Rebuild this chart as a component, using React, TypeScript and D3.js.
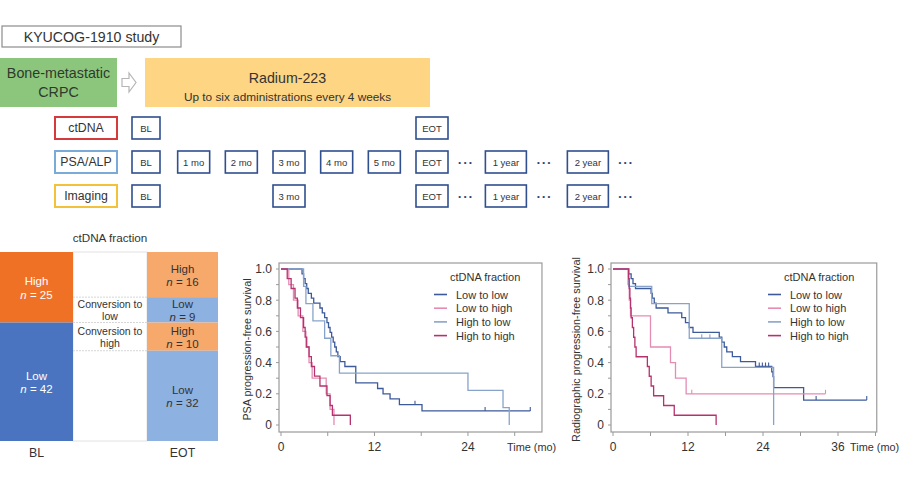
import React from "react";
import * as d3 from "d3";

const FONT = "'Liberation Sans', Arial, Helvetica, sans-serif";
const TEXT = "#333";

// ---- study schedule
const timepoints = ["BL", "1 mo", "2 mo", "3 mo", "4 mo", "5 mo", "EOT", "dots", "1 year", "dots", "2 year", "dots"];
const timepointSlots = [0, 1, 2, 3, 4, 5, 6, 6.72, 7.55, 8.37, 9.27, 10.08];
const assays = ["ctDNA", "PSA/ALP", "Imaging"];
const assayColors = ["#d63b3b", "#7aaad8", "#f2c23a"];
const assaySchedule = [
  [0, 6],
  [0, 1, 2, 3, 4, 5, 6, 7, 8, 9, 10, 11],
  [0, 3, 6, 7, 8, 9, 10, 11],
];

// ---- ctDNA fraction bars
const blLabels = ["High", "Low"];
const blCounts = [25, 42];
const eotLabels = ["High", "Low", "High", "Low"];
const eotCounts = [16, 9, 10, 32];
const conversionLabels = ["", "Conversion to|low", "Conversion to|high", ""];

// ---- Kaplan-Meier curves [month, survival]
const seriesNames = ["Low to low", "Low to high", "High to low", "High to high"];
const seriesColors = ["#3d5a99", "#e58cb3", "#88a3cb", "#b5326e"];

const psaLowLow = [[0, 1], [2.7, 0.969], [2.9, 0.938], [3.1, 0.906], [3.3, 0.875], [3.5, 0.844], [3.9, 0.813], [4.2, 0.781], [5.0, 0.75], [5.3, 0.719], [5.6, 0.688], [5.9, 0.656], [6.1, 0.625], [6.3, 0.594], [6.5, 0.563], [6.7, 0.531], [6.9, 0.5], [7.1, 0.469], [7.3, 0.438], [7.6, 0.406], [8.2, 0.375], [9.6, 0.27], [12.4, 0.234], [13.1, 0.2], [14.0, 0.168], [15.2, 0.13], [18.1, 0.09], [32.0, 0.09]];
const psaLowLowCensor = [17.2, 26.2, 32.0];
const psaLowHigh = [[0, 1], [1.0, 0.9], [1.6, 0.8], [2.2, 0.7], [2.8, 0.6], [3.2, 0.5], [3.6, 0.4], [4.0, 0.3], [5.8, 0.2], [6.3, 0.1], [6.8, 0]];
const psaHighLow = [[0, 1], [2.9, 0.889], [3.2, 0.778], [4.1, 0.667], [5.6, 0.556], [6.4, 0.444], [7.5, 0.333], [24.0, 0.222], [28.5, 0.111], [29.3, 0]];
const psaHighHigh = [[0, 1], [0.8, 0.938], [1.3, 0.875], [1.8, 0.813], [2.1, 0.75], [2.5, 0.688], [2.9, 0.625], [3.1, 0.563], [3.3, 0.5], [3.6, 0.438], [3.9, 0.375], [4.3, 0.313], [5.0, 0.25], [5.9, 0.188], [6.3, 0.125], [6.6, 0.0625], [8.9, 0]];

const rLowLow = [[0, 1], [2.5, 0.969], [2.9, 0.938], [3.2, 0.906], [3.6, 0.875], [6.1, 0.844], [6.3, 0.813], [6.6, 0.781], [6.9, 0.75], [8.8, 0.719], [11.0, 0.688], [11.6, 0.656], [12.2, 0.625], [12.8, 0.594], [17.0, 0.563], [17.4, 0.531], [17.8, 0.5], [18.2, 0.469], [19.1, 0.438], [20.4, 0.406], [22.8, 0.375], [25.4, 0.34], [25.6, 0.31], [25.7, 0.24], [30.5, 0.16], [40.6, 0.16]];
const rLowLowCensor = [23.4, 23.9, 24.4, 24.9, 32.5, 40.6];
const rLowHigh = [[0, 1], [2.4, 0.9], [2.6, 0.8], [2.8, 0.7], [6.0, 0.5], [9.2, 0.4], [10.0, 0.3], [11.7, 0.2], [34.0, 0.2]];
const rLowHighCensor = [12.6, 34.0];
const rHighLow = [[0, 1], [2.5, 0.889], [6.2, 0.778], [12.2, 0.556], [17.4, 0.37], [25.7, 0]];
const rHighLowCensor = [14.2, 15.5];
const rHighHigh = [[0, 1], [2.5, 0.9375], [2.6, 0.875], [2.7, 0.8125], [2.8, 0.75], [2.9, 0.6875], [3.1, 0.625], [3.3, 0.5625], [3.5, 0.5], [3.7, 0.4375], [5.5, 0.375], [5.8, 0.3125], [6.1, 0.25], [6.5, 0.1875], [8.1, 0.125], [9.8, 0.0625], [16.5, 0]];

const yTickValues = [0, 0.2, 0.4, 0.6, 0.8, 1.0];

function survivalAt(pts: number[][], t: number) {
  let s = pts[0][1];
  pts.forEach((p) => { if (p[0] <= t) s = p[1]; });
  return s;
}

function KMPanel(props: any) {
  const { zero, pxPerMonth, tMax, xTicks, yLabel, yLabelX, timeX, legendX, curves, censors } = props;
  const x = d3.scaleLinear().domain([0, 12]).range([zero, zero + 12 * pxPerMonth]);
  const y = d3.scaleLinear().domain([0, 1]).range([425, 269]);
  const top = 263, bottom = 432, left = zero - 2, right = x(tMax);
  const line = d3.line<number[]>().x((d) => x(d[0])).y((d) => y(d[1])).curve(d3.curveStepAfter);
  const minorY = d3.range(0, 11).map((i) => i / 10);
  const minorX = d3.range(6, tMax, 12);
  return (
    <g fontFamily={FONT}>
      <rect x={left} y={top} width={right - left} height={bottom - top} fill="white" stroke="#9a9a9a" strokeWidth={1.2} />
      {minorY.map((v) => (
        <line key={"my" + v} x1={left - 3} x2={left} y1={y(v)} y2={y(v)} stroke="#9a9a9a" />
      ))}
      {yTickValues.map((v) => (
        <text key={"ty" + v} x={left - 7} y={y(v) + 4.3} fontSize={12} textAnchor="end" fill={TEXT}>
          {v === 0 ? "0" : v.toFixed(1)}
        </text>
      ))}
      {xTicks.concat(minorX).map((v: number) => (
        <line key={"mx" + v} x1={x(v)} x2={x(v)} y1={bottom} y2={bottom + 4} stroke="#9a9a9a" />
      ))}
      {xTicks.map((v: number) => (
        <text key={"tx" + v} x={x(v)} y={451} fontSize={12} textAnchor="middle" fill={TEXT}>{v}</text>
      ))}
      <text x={timeX} y={451} fontSize={10.9} fill={TEXT}>Time (mo)</text>
      <text transform={`translate(${yLabelX},${(top + bottom) / 2 + 2}) rotate(-90)`} fontSize={10.8} textAnchor="middle" fill={TEXT}>
        {yLabel}
      </text>
      {curves.map((pts: number[][], i: number) => (
        <path key={"c" + i} d={line(pts) || ""} fill="none" stroke={seriesColors[i]} strokeWidth={1.3} />
      ))}
      {censors.map((cs: number[], i: number) =>
        cs.map((t) => {
          const sy = y(survivalAt(curves[i], t));
          return <line key={"cs" + i + t} x1={x(t)} x2={x(t)} y1={sy - 4} y2={sy} stroke={seriesColors[i]} strokeWidth={1.1} />;
        })
      )}
      <text x={legendX + 16} y={281} fontSize={11} fill={TEXT}>ctDNA fraction</text>
      {seriesNames.map((n, i) => (
        <g key={n}>
          <line x1={legendX} x2={legendX + 13} y1={294.5 + i * 13.7} y2={294.5 + i * 13.7} stroke={seriesColors[i]} strokeWidth={1.6} />
          <text x={legendX + 22} y={298.5 + i * 13.7} fontSize={11} fill={TEXT}>{n}</text>
        </g>
      ))}
    </g>
  );
}

function Schedule() {
  const slotX = d3.scaleLinear().domain([0, 6]).range([146, 432]);
  const rowY = d3.scalePoint<string>().domain(assays).range([128, 196]);
  const boxW = (lab: string) => (lab === "BL" ? 28 : lab.includes("year") ? 41 : 32);
  return (
    <g fontFamily={FONT}>
      <rect x={2} y={26} width={179} height={21} fill="white" stroke="#8c8c8c" strokeWidth={1.2} />
      <text x={91.5} y={41.5} fontSize={14.2} textAnchor="middle" fill={TEXT}>KYUCOG-1910 study</text>

      <rect x={0} y={58} width={117} height={49} fill="#8cc67c" />
      <text x={58.5} y={78} fontSize={14.3} textAnchor="middle" fill="#2f3a2c">Bone-metastatic</text>
      <text x={58.5} y={97} fontSize={14.3} textAnchor="middle" fill="#2f3a2c">CRPC</text>
      <polygon points="122,78.5 129,78.5 129,73 136,82.5 129,92 129,86.5 122,86.5" fill="white" stroke="#b5b5b5" strokeWidth={1.2} />

      <rect x={145} y={58} width={285} height={49} fill="#fdd583" />
      <text x={287.5} y={83} fontSize={14.2} textAnchor="middle" fill={TEXT}>Radium-223</text>
      <text x={287.5} y={101} fontSize={11.8} textAnchor="middle" fill={TEXT}>Up to six administrations every 4 weeks</text>

      {assays.map((a, r) => {
        const cy = rowY(a) as number;
        return (
          <g key={a}>
            <rect x={55} y={cy - 11} width={62} height={22} fill="white" stroke={assayColors[r]} strokeWidth={2} />
            <text x={86} y={cy + 4.3} fontSize={12.3} textAnchor="middle" fill={TEXT}>{a}</text>
            {assaySchedule[r].map((k) => {
              const lab = timepoints[k];
              const cx = slotX(timepointSlots[k]);
              if (lab === "dots") {
                return (
                  <text key={k} x={cx} y={cy + 3} fontSize={8} textAnchor="middle" letterSpacing={2.5} fill="#2b3f6e">•••</text>
                );
              }
              const w = boxW(lab);
              return (
                <g key={k}>
                  <rect x={cx - w / 2} y={cy - 11} width={w} height={22} fill="white" stroke="#2f4f8f" strokeWidth={1.6} />
                  <text x={cx} y={cy + 3.5} fontSize={9.5} textAnchor="middle" fill={TEXT}>{lab}</text>
                </g>
              );
            })}
          </g>
        );
      })}
    </g>
  );
}

function FractionBars() {
  const total = d3.sum(blCounts);
  const y = d3.scaleLinear().domain([0, total]).range([252, 441]);
  const blStart = d3.cumsum([0].concat(blCounts));
  const eotStart = d3.cumsum([0].concat(eotCounts));
  const blFill = ["#ef7126", "#4a74c0"];
  const eotFill = ["#f7a86b", "#8db1e0"];
  return (
    <g fontFamily={FONT}>
      <text x={110} y={242} fontSize={11.7} textAnchor="middle" fill={TEXT}>ctDNA fraction</text>
      <rect x={73} y={y(0)} width={74} height={y(total) - y(0)} fill="white" stroke="#e2e2e2" />
      {blCounts.map((c, i) => {
        const y0 = y(blStart[i]), y1 = y(blStart[i] + c), m = (y0 + y1) / 2;
        return (
          <g key={"bl" + i}>
            <rect x={0} y={y0} width={73} height={y1 - y0} fill={blFill[i % 2]} />
            <text x={36.5} y={m - 2} fontSize={11.5} textAnchor="middle" fill="white">{blLabels[i]}</text>
            <text x={36.5} y={m + 11.5} fontSize={11.5} textAnchor="middle" fill="white">
              <tspan fontStyle="italic">n</tspan> = {c}
            </text>
          </g>
        );
      })}
      {eotCounts.map((c, i) => {
        const y0 = y(eotStart[i]), y1 = y(eotStart[i] + c), m = (y0 + y1) / 2;
        const conv = conversionLabels[i].split("|");
        return (
          <g key={"eot" + i}>
            <rect x={147} y={y0} width={71} height={y1 - y0} fill={eotFill[i % 2]} />
            {i > 0 && <line x1={73} x2={147} y1={y0} y2={y0} stroke="#d6d6d6" strokeDasharray="2,1" />}
            <text x={182.5} y={m - 2} fontSize={11.5} textAnchor="middle" fill={TEXT}>{eotLabels[i]}</text>
            <text x={182.5} y={m + 11.5} fontSize={11.5} textAnchor="middle" fill={TEXT}>
              <tspan fontStyle="italic">n</tspan> = {c}
            </text>
            {conv[0] && (
              <>
                <text x={110} y={m - 2} fontSize={10.5} textAnchor="middle" fill={TEXT}>{conv[0]}</text>
                <text x={110} y={m + 10.5} fontSize={10.5} textAnchor="middle" fill={TEXT}>{conv[1]}</text>
              </>
            )}
          </g>
        );
      })}
      <text x={36.5} y={457} fontSize={12.3} textAnchor="middle" fill={TEXT}>BL</text>
      <text x={182.5} y={457} fontSize={12.3} textAnchor="middle" fill={TEXT}>EOT</text>
    </g>
  );
}

export default function App() {
  return (
    <svg width={900} height={500} style={{ position: "absolute", left: 0, top: 0, background: "white" }}>
      <rect x={0} y={0} width={900} height={500} fill="white" />
      <Schedule />
      <FractionBars />
      <KMPanel
        zero={281}
        pxPerMonth={7.79}
        tMax={33.5}
        xTicks={[0, 12, 24]}
        yLabel="PSA progression-free survival"
        yLabelX={251}
        timeX={507}
        legendX={434}
        curves={[psaLowLow, psaLowHigh, psaHighLow, psaHighHigh]}
        censors={[psaLowLowCensor, [], [], []]}
      />
      <KMPanel
        zero={613}
        pxPerMonth={6.25}
        tMax={42.2}
        xTicks={[0, 12, 24, 36]}
        yLabel="Radiographic progression-free survival"
        yLabelX={580}
        timeX={850}
        legendX={768}
        curves={[rLowLow, rLowHigh, rHighLow, rHighHigh]}
        censors={[rLowLowCensor, rLowHighCensor, rHighLowCensor, []]}
      />
    </svg>
  );
}
